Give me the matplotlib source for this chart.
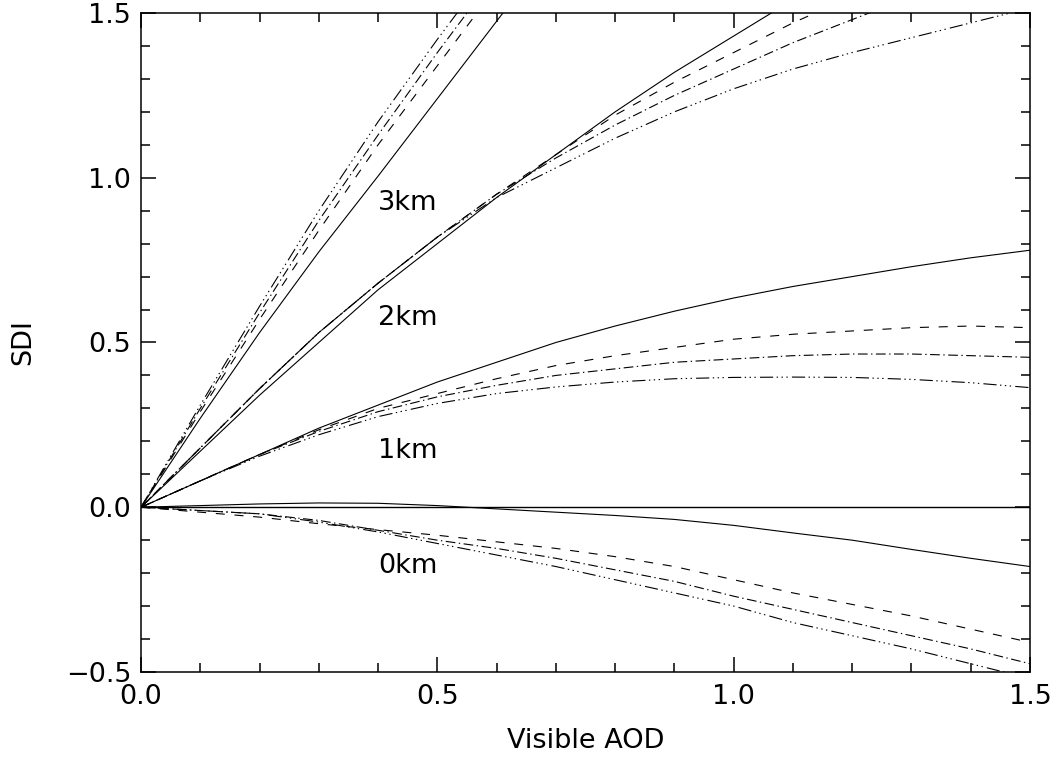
import matplotlib

matplotlib.use("Agg")

import matplotlib.pyplot as plt
import numpy as np
from matplotlib.ticker import MultipleLocator, FuncFormatter

# visible AOD grid that the curves were read on
aod = [0.0, 0.1, 0.2, 0.3, 0.4, 0.5, 0.6, 0.7, 0.8, 0.9, 1.0, 1.1, 1.2, 1.3, 1.4, 1.5]

# SDI, one list per altitude and line style
# order of styles: solid, dashed, dash-dot, dash-dot-dot-dot
sdi_0km = [
    [0, 0.005, 0.010, 0.013, 0.012, 0.005, -0.005, -0.015, -0.025, -0.037, -0.055, -0.078, -0.100, -0.128, -0.155, -0.180],
    [0, -0.015, -0.030, -0.050, -0.068, -0.085, -0.105, -0.125, -0.150, -0.180, -0.220, -0.260, -0.295, -0.330, -0.370, -0.410],
    [0, -0.010, -0.020, -0.040, -0.070, -0.100, -0.125, -0.155, -0.190, -0.225, -0.270, -0.310, -0.350, -0.390, -0.430, -0.475],
    [0, -0.010, -0.020, -0.045, -0.075, -0.110, -0.145, -0.180, -0.220, -0.260, -0.300, -0.350, -0.390, -0.430, -0.475, -0.520],
]
sdi_1km = [
    [0, 0.08, 0.16, 0.24, 0.31, 0.38, 0.44, 0.50, 0.55, 0.595, 0.635, 0.67, 0.70, 0.73, 0.757, 0.78],
    [0, 0.08, 0.16, 0.235, 0.30, 0.345, 0.39, 0.43, 0.46, 0.485, 0.51, 0.525, 0.535, 0.545, 0.55, 0.545],
    [0, 0.08, 0.16, 0.23, 0.29, 0.335, 0.37, 0.40, 0.42, 0.44, 0.45, 0.46, 0.465, 0.465, 0.46, 0.455],
    [0, 0.08, 0.155, 0.22, 0.275, 0.315, 0.345, 0.365, 0.38, 0.39, 0.394, 0.395, 0.394, 0.388, 0.378, 0.363],
]
sdi_2km = [
    [0, 0.17, 0.34, 0.50, 0.66, 0.80, 0.94, 1.07, 1.20, 1.32, 1.43, 1.54],
    [0, 0.18, 0.36, 0.53, 0.68, 0.82, 0.95, 1.07, 1.19, 1.29, 1.38, 1.47, 1.55],
    [0, 0.18, 0.36, 0.53, 0.68, 0.82, 0.95, 1.06, 1.16, 1.25, 1.33, 1.41, 1.48, 1.55],
    [0, 0.18, 0.36, 0.53, 0.68, 0.82, 0.94, 1.03, 1.12, 1.20, 1.27, 1.33, 1.38, 1.425, 1.47, 1.515],
]
sdi_3km = [
    [0, 0.27, 0.53, 0.775, 1.005, 1.24, 1.475, 1.71],
    [0, 0.29, 0.57, 0.84, 1.10, 1.34, 1.58],
    [0, 0.30, 0.59, 0.87, 1.13, 1.38, 1.62],
    [0, 0.31, 0.61, 0.90, 1.17, 1.42, 1.66],
]

altitude_labels = ["0km", "1km", "2km", "3km"]
label_x = [0.40, 0.40, 0.40, 0.40]
label_y = [-0.178, 0.172, 0.573, 0.922]

plt.rcParams["lines.scale_dashes"] = False
plt.rcParams["font.family"] = "DejaVu Sans"

STYLES = [
    "-",
    (0, (6.5, 7.0)),
    (0, (7.0, 2.5, 1.0, 2.5)),
    (0, (9.5, 2.5, 1.0, 2.5, 1.0, 2.5, 1.0, 3.0)),
]
FONT = 19.5


def tick_text(value, position):
    return ("%.1f" % value).replace("-", "\u2212")


figure = plt.figure(figsize=(10.58, 7.65), dpi=100)
axis = figure.add_axes([0.1333, 0.1216, 0.8402, 0.8614])

for group in (sdi_0km, sdi_1km, sdi_2km, sdi_3km):
    for style, values in zip(STYLES, group):
        axis.plot(aod[: len(values)], values, color="black", linewidth=0.8,
                  linestyle=style, dash_capstyle="butt")

axis.axhline(0.0, color="black", linewidth=1.0)

for text, x, y in zip(altitude_labels, label_x, label_y):
    axis.text(x, y, text, fontsize=FONT, ha="left", va="center")

axis.set_xlim(0, 1.5)
axis.set_ylim(-0.5, 1.5)
axis.xaxis.set_major_locator(MultipleLocator(0.5))
axis.xaxis.set_minor_locator(MultipleLocator(0.1))
axis.yaxis.set_major_locator(MultipleLocator(0.5))
axis.yaxis.set_minor_locator(MultipleLocator(0.1))
axis.xaxis.set_major_formatter(FuncFormatter(tick_text))
axis.yaxis.set_major_formatter(FuncFormatter(tick_text))

axis.tick_params(which="both", direction="in", top=True, right=True,
                 width=1.1, labelsize=FONT, colors="black")
axis.tick_params(which="major", length=10.8)
axis.tick_params(which="minor", length=6.5)
axis.tick_params(axis="x", which="major", pad=9)
axis.tick_params(axis="y", which="major", pad=7)
for spine in axis.spines.values():
    spine.set_linewidth(1.1)

axis.set_xlabel("Visible AOD", fontsize=FONT)
axis.set_ylabel("SDI", fontsize=FONT)
axis.xaxis.set_label_coords(0.5, -0.085)
axis.yaxis.set_label_coords(-0.118, 0.5)

figure.savefig("out.png", dpi=100)
plt.close(figure)
